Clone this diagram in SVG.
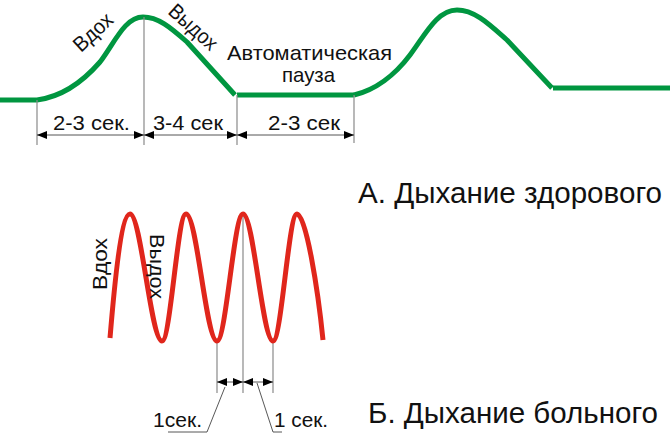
<svg xmlns="http://www.w3.org/2000/svg" width="671" height="435" viewBox="0 0 671 435">
<style>
.t{font-family:"Liberation Sans",Arial,sans-serif;fill:#111}
.s{font-size:21px}
.big{font-size:29px}
.green{fill:none;stroke:#009640;stroke-width:5;stroke-linejoin:round}
.red{fill:none;stroke:#e0261c;stroke-width:5;stroke-linejoin:round}
.ext{stroke:#8a8a8a;stroke-width:1.2;fill:none}
.dim{stroke:#555;stroke-width:1;fill:none;marker-start:url(#ah);marker-end:url(#ah)}
.lead{stroke:#444;stroke-width:0.9;fill:none}
</style>
<defs>
<marker id="ah" viewBox="0 0 10 8" refX="10" refY="4" markerWidth="10" markerHeight="8" markerUnits="userSpaceOnUse" orient="auto-start-reverse">
<path d="M0,0 L10,4 L0,8 z" fill="#000"/>
</marker>
</defs>
<rect width="671" height="435" fill="#fff"/>

<g id="curve-a">
<path class="green" d="M0,100 L37,100 C60,97 80,85 100,62 C115,42 125,17 143,17 C158,17 170,27 187,42 L235,95"/>
<path class="green" d="M237,95 L354,95"/>
<path class="green" d="M354,95 C375,90 395,75 410,55 C425,35 437,10 457,10 C475,10 490,25 507,40 L552,88"/>
<path class="green" d="M553,88 L670,88"/>
</g>

<g id="connectors">
<g id="dims-a">
<path class="ext" d="M37,100 V145 M144,17 V145 M237,95 V145 M354,95 V143"/>
<path class="dim" d="M37,135 H144"/>
<path class="dim" d="M144,135 H237"/>
<path class="dim" d="M237,135 H354"/>
</g>
<g id="dims-b">
<path class="ext" d="M217,343 V393 M243,214 V393 M273,343 V393"/>
<path class="dim" d="M217,382 H243"/>
<path class="dim" d="M243,382 H273"/>
<path class="lead" d="M225,387 L207,432 L168,432"/>
<path class="lead" d="M257,383 L273,432 L282,432"/>
</g>
</g>

<g id="labels-a">
<text class="t s" transform="translate(81,53) rotate(-43)" textLength="46" lengthAdjust="spacingAndGlyphs">Вдох</text>
<text class="t s" transform="translate(167,13) rotate(42)" textLength="58" lengthAdjust="spacingAndGlyphs">Выдох</text>
<text class="t s" x="227" y="60" textLength="165" lengthAdjust="spacingAndGlyphs">Автоматическая</text>
<text class="t s" x="282" y="82" textLength="53" lengthAdjust="spacingAndGlyphs">пауза</text>
<text class="t s" x="53" y="130" textLength="77" lengthAdjust="spacingAndGlyphs">2-3 сек.</text>
<text class="t s" x="153" y="130" textLength="70" lengthAdjust="spacingAndGlyphs">3-4 сек</text>
<text class="t s" x="268" y="130" textLength="72" lengthAdjust="spacingAndGlyphs">2-3 сек</text>
</g>

<g id="curve-b">
<path class="red" d="M110,338 C114,290 121,214 130,214 C141,214 151,341 162,341 C170.5,341 177.5,214 186,214 C197,214 206,341 217,341 C226,341 234,214 243,214 C253.5,214 262.5,341 273,341 C281.5,341 288.5,214 297,214 C306,214 318,290 323,340"/>
</g>

<g id="labels-b">
<text class="t s" transform="translate(107,290) rotate(-90)" textLength="52" lengthAdjust="spacingAndGlyphs">Вдох</text>
<text class="t s" transform="translate(150,234) rotate(90)" textLength="65" lengthAdjust="spacingAndGlyphs">Выдох</text>
<text class="t" x="153" y="427" style="font-size:20px" textLength="49" lengthAdjust="spacingAndGlyphs">1сек.</text>
<text class="t" x="274" y="427" style="font-size:20px" textLength="54" lengthAdjust="spacingAndGlyphs">1 сек.</text>
</g>

<g id="titles">
<text class="t big" x="358" y="203" textLength="304" lengthAdjust="spacingAndGlyphs">А. Дыхание здорового</text>
<text class="t big" x="368" y="423" textLength="290" lengthAdjust="spacingAndGlyphs">Б. Дыхание больного</text>
</g>
</svg>
